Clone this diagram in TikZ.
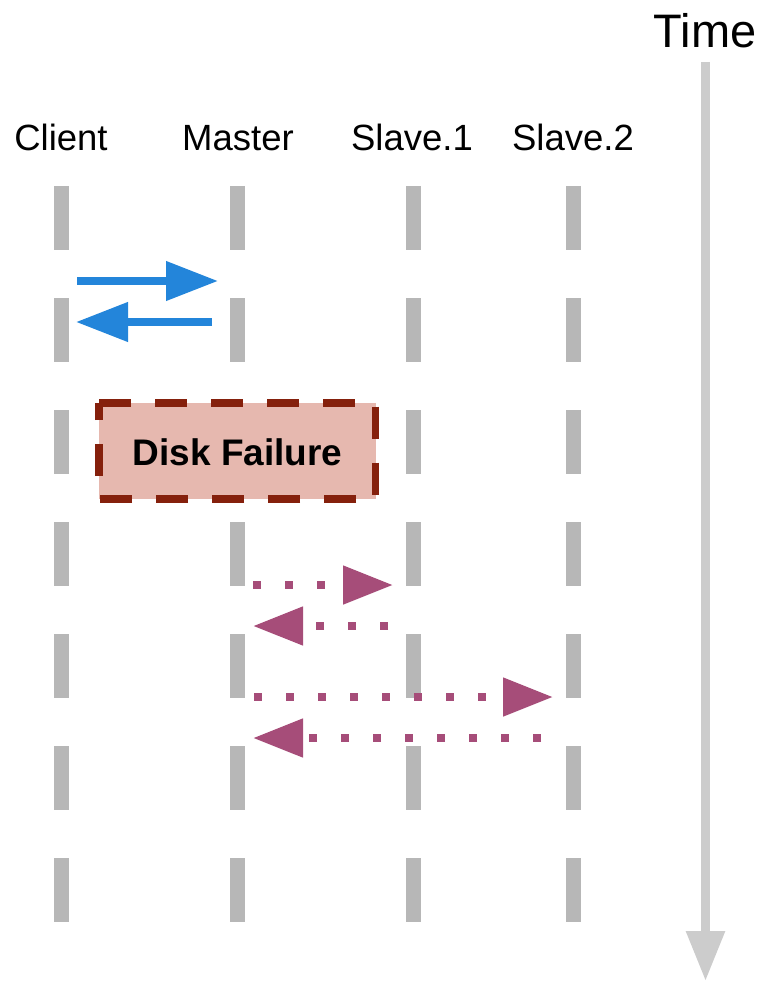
\documentclass[tikz,border=0pt]{standalone}
\usepackage{fontspec}
\setmainfont{Liberation Sans}
\usetikzlibrary{arrows.meta}
\definecolor{lifegray}{HTML}{B7B7B7}
\definecolor{timegray}{HTML}{CCCCCC}
\definecolor{msgblue}{HTML}{2385DA}
\definecolor{msgpurple}{HTML}{A64D79}
\definecolor{failfill}{HTML}{E6B8AF}
\definecolor{failedge}{HTML}{85200C}
\tikzset{
  lifeline/.style={draw=lifegray, line width=15pt, dash pattern=on 64pt off 48pt},
  lbl/.style={anchor=base, inner sep=0pt, font=\fontsize{36.5}{40}\selectfont},
  bluemsg/.style={draw=msgblue, line width=7.5pt, -{Triangle[length=52pt,width=38pt]}},
  purplemsg/.style={draw=msgpurple, line width=8pt, dash pattern=on 8pt off 24pt, -{Triangle[length=50pt,width=37pt]}},
  failbox/.style={fill=failfill, draw=failedge, line width=7.5pt, dash pattern=on 32pt off 24pt},
}
\begin{document}
\begin{tikzpicture}[x=1pt,y=-1pt]
\useasboundingbox (0,0) rectangle (762,981);
% time axis
\node[lbl, font=\fontsize{47}{50}\selectfont] (time) at (705,48) {Time};
\coordinate (ttop) at (705.5,62);
\coordinate (tbot) at (705.5,981);
\draw[timegray, line width=9pt, -{Triangle[length=50pt,width=37pt]}] (ttop) -- (tbot);
% labels
\node[lbl] (client) at (61,151) {Client};
\node[lbl] (master) at (238,151) {Master};
\node[lbl] (slave1) at (412,151) {Slave.1};
\node[lbl] (slave2) at (573,151) {Slave.2};
% lifelines
\foreach \n/\x in {c/61,m/237,s/413,t/573}{
  \coordinate (\n top) at (\x,186);
  \coordinate (\n bot) at (\x,922);
  \draw[lifeline] (\n top) -- (\n bot);
}
% blue messages
\coordinate (b1s) at (77,281); \coordinate (b1e) at (218,281);
\coordinate (b2s) at (212,322); \coordinate (b2e) at (76,322);
\draw[bluemsg] (b1s) -- (b1e);
\draw[bluemsg] (b2s) -- (b2e);
% disk failure
\draw[failbox] (99,403) -- (375.5,403) -- (375.5,499) -- (99,499) -- cycle;
\node[anchor=base, inner sep=0pt, font=\bfseries\fontsize{37}{40}\selectfont] (fail) at (237.5,465.5) {Disk Failure};
% purple messages
\coordinate (p1s) at (253,585); \coordinate (p1e) at (393,585);
\coordinate (p2s) at (388,626); \coordinate (p2e) at (253,626);
\coordinate (p3s) at (254,697); \coordinate (p3e) at (553,697);
\coordinate (p4s) at (541,738); \coordinate (p4e) at (253,738);
\draw[purplemsg] (p1s) -- (p1e);
\draw[purplemsg] (p2s) -- (p2e);
\draw[purplemsg] (p3s) -- (p3e);
\draw[purplemsg] (p4s) -- (p4e);
\end{tikzpicture}
\end{document}
